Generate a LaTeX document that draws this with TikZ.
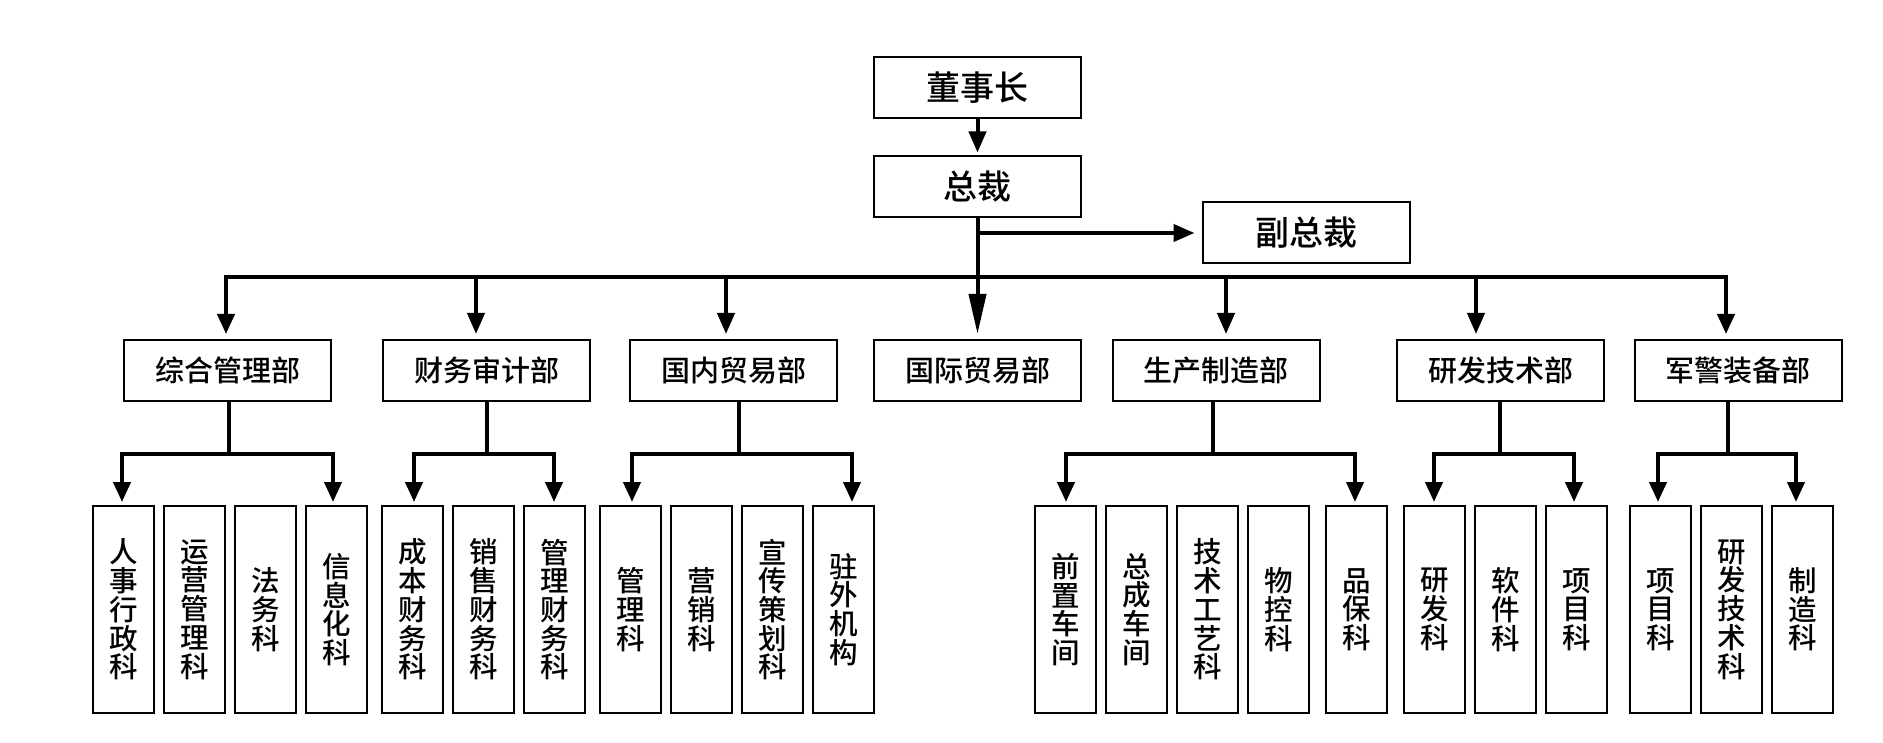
\documentclass[tikz,border=0pt]{standalone}
\usepackage{fontspec}
\setmainfont{Noto Sans CJK SC}[BoldFont={Noto Sans CJK SC Medium}]
\usepackage{tikz}
\usetikzlibrary{arrows.meta,positioning}
\tikzset{x=1pt,y=-1pt,
  box/.style={draw,line width=2pt,inner sep=0pt,minimum width=207pt,minimum height=61pt},
  topbox/.style={box,font=\fontsize{34}{34}\bfseries},
  dept/.style={box,font=\fontsize{29}{29}\bfseries},
  leaf/.style={draw,line width=2pt,inner sep=0pt,minimum width=61pt,minimum height=207pt,align=center,font=\fontsize{28.5}{28.7}\bfseries},
  link/.style={line width=4pt},
  arr/.style={link,-{Triangle[width=17pt,length=21pt]}},
  fork/.style={link,{Triangle[width=17pt,length=20pt]}-{Triangle[width=17pt,length=20pt]}}}

\begin{document}
\begin{tikzpicture}
    \useasboundingbox (0,0) rectangle (1883,743);
    \node[topbox] (chair) at (977.5,88) {董事长};
    \node[topbox] (ceo) at (977.5,187) {总裁};
    \node[topbox] (vp) at (1306,233) {副总裁};
    \draw[arr,shorten >=3pt] (chair) -- (ceo);
    \draw[arr,shorten >=7pt] (ceo.south |- vp.west) -- (vp.west);
    % departments
    \foreach \n/\x/\t in {d1/227.5/综合管理部, d2/486.5/财务审计部, d3/733.5/国内贸易部,
        d4/977.5/国际贸易部, d5/1216/生产制造部, d6/1500.5/研发技术部, d7/1738/军警装备部}
        \node[dept] (\n) at (\x,370.5) {\t};
    \foreach \i in {1,...,7}
        \coordinate (b\i) at ({226+250*(\i-1)},277);
    \draw[link,-{Triangle[width=17pt,length=40pt]},shorten >=5pt] (ceo) -- (d4);
    \draw[fork,shorten <=5pt,shorten >=5pt] (b1 |- d1.north) -- (b1) -- (b7) -- (b7 |- d7.north);
    \foreach \i in {2,3,5,6}
        \draw[arr,shorten >=5pt] (b\i) -- (b\i |- d\i.north);
    % sections
    \foreach \x/\t [count=\i] in {123.5/{人\\事\\行\\政\\科}, 194.5/{运\\营\\管\\理\\科},
        265.5/{法\\务\\科}, 336.5/{信\\息\\化\\科}, 412.5/{成\\本\\财\\务\\科},
        483.5/{销\\售\\财\\务\\科}, 554.5/{管\\理\\财\\务\\科}, 630.5/{管\\理\\科},
        701.5/{营\\销\\科}, 772.5/{宣\\传\\策\\划\\科}, 843.5/{驻\\外\\机\\构},
        1065.5/{前\\置\\车\\间}, 1136.5/{总\\成\\车\\间}, 1207.5/{技\\术\\工\\艺\\科},
        1278.5/{物\\控\\科}, 1356.5/{品\\保\\科}, 1434.5/{研\\发\\科},
        1505.5/{软\\件\\科}, 1576.5/{项\\目\\科}, 1660.5/{项\\目\\科},
        1731.5/{研\\发\\技\\术\\科}, 1802.5/{制\\造\\科}}
        \node[leaf] (k\i) at (\x,609.5) {\t};
    \foreach \d/\vx/\la/\ra/\ka/\kb in {d1/228.7/122/333/k1/k4, d2/487/414/554/k5/k7,
        d3/738.7/632/852/k8/k11, d5/1213/1066/1355/k12/k16,
        d6/1500/1434/1574/k17/k19, d7/1728/1658/1796/k20/k22} {
        \coordinate (j) at (\vx,454);
        \draw[link] (j |- \d.south) -- (j);
        \draw[fork,shorten <=3pt,shorten >=3pt] (\la,454 |- \ka.north) -- (\la,454)
            -- (\ra,454) -- (\ra,454 |- \kb.north);
    }
\end{tikzpicture}
\end{document}
